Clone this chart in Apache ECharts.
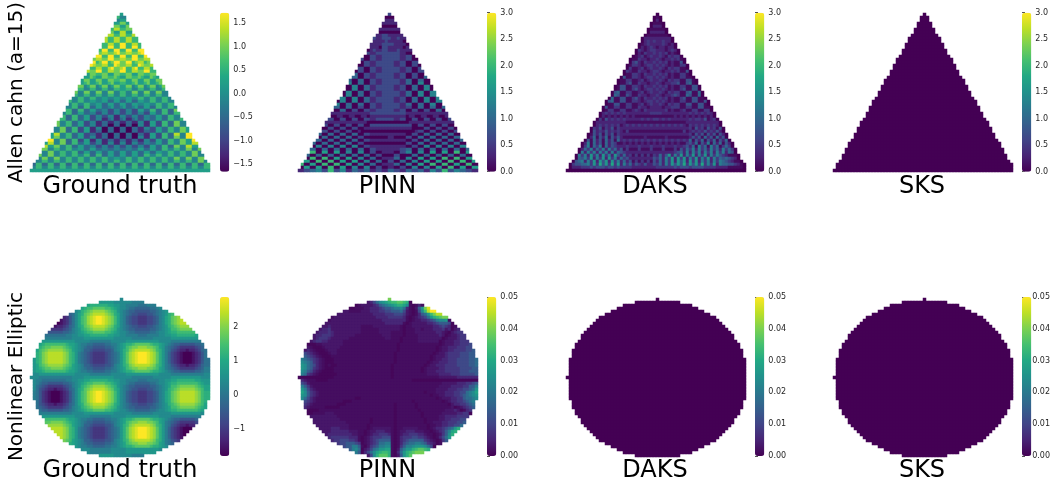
<!DOCTYPE html>
<html><head><meta charset="utf-8">
<style>html,body{margin:0;padding:0;background:#fff}#c{width:1053px;height:487px}</style>
<script src="https://cdn.jsdelivr.net/npm/echarts@6/dist/echarts.min.js"></script>
</head><body><div id="c"></div>
<script>
const colTitles=["Ground truth","PINN","DAKS","SKS"];
const rowLabels=["Allen cahn (a=15)","Nonlinear Elliptic"];
const triLeft=[30,29,29,28,28,27,27,26,25,25,24,24,23,23,22,21,21,20,20,19,19,18,17,17,16,16,15,15,14,13,13,12,12,11,11,10,9,9,8,8,7,7,6,5,5,4,4,3,3,2,1,1,0];
const circleLeft=[30,23,19,17,15,13,11,10,9,8,7,6,5,5,4,3,3,2,2,2,1,1,1,1,1,1,0,1,1,1,1,1,1,1,2,2,2,3,3,4,5,5,6,7,8,9,10,11,13,15,17,19,23];

const triTruthRows=["5555 5555 5555 5555 5555 5555 5555 5555 5555","6655 6655 6655 6655 6655 6655 6655 6644 7755","5566 5566 5566 5566 5566 5566 5566 4455 5566","5577 5577 5577 5577 5577 5577 5577 5577 5577","7755 7755 7755 7755 7755 7755 7755 7755 7755","7766 7766 7766 7766 7766 7766 7766 8866 7766 7766","5577 5577 5577 5577 5577 5577 5577 5588 5577 5577","6688 6688 6688 6688 6688 6688 6688 6688 6688 6688","8866 8866 8866 8866 8866 8866 8866 8866 8866 8866 8866","8866 8866 8866 8866 8866 8866 8866 8866 8866 8866 8866","6688 6688 6688 6688 6688 6688 6688 6699 6688 6688 6688","6699 6699 6699 6699 6699 6699 6699 6699 6699 6699 6699","9966 9966 9966 9966 9966 9966 9966 9966 9966 9966 9966 9966","8977 8977 8977 8977 8977 8977 8877 8977 8877 8977 8977 8877","6699 6699 6699 6699 6699 6699 6699 6699 6699 6699 6699 6699","7788 7788 7788 7788 7788 7788 7799 7788 7799 7788 7788 7788","9967 9967 9967 9967 8867 9967 9967 9977 9967 8867 9967 8867","9877 9877 9877 9877 8877 9877 8866 9877 8866 9877 8877 9877","6689 6689 6689 6689 6689 6688 6689 7789 6689 6688 6689 6678","7799 7799 7799 7799 6688 7799 6688 7799 6688 7799 6688 7788","7755 7755 7755 7755 7755 7766 7755 7766 7755 7766 7755 7755 7755","7655 7655 7655 7655 7655 7655 7766 7655 7766 7655 7655 7655 7655","5577 5577 5577 5577 5577 5577 5577 6677 5577 5577 5577 5577 5577","5567 5567 5567 5567 5567 5567 5567 5566 5567 5567 5567 5567 5567","7745 7745 7745 7745 7745 7745 7745 7755 7745 7745 7745 7745 7745 7745","6644 6644 6644 6644 6644 6644 6644 6655 6644 6644 6644 6644 6644 6644","4477 4477 4477 4477 4477 4477 4477 4466 4477 4477 4477 4477 4477 4477","4466 4466 4466 4466 4466 4466 4466 4466 4466 4466 4466 4466 4466 4466","6644 6644 6644 6644 6644 6644 5544 5544 5544 6644 6644 6644 6644 6644 6644","6644 6644 6644 6644 6644 5544 5533 5533 5533 5544 6644 6644 6644 6644 6644","4466 4466 4467 4466 4466 4455 3355 3355 3355 4455 4466 4466 4467 4466 4466","4466 4467 4466 4466 3366 3355 3345 3345 3345 3355 3366 4466 4466 4467 4466","6644 6644 7744 6633 6633 5533 4422 4422 4422 5533 6633 6633 7744 6644 6644","6644 7744 6644 6633 5533 4422 4422 4422 4422 4422 5533 6633 6644 7744 6644","4477 4477 4466 3366 3355 2244 2244 1144 2244 2244 3355 3366 4466 4477 4477","4477 4488 4466 3366 3355 2244 1134 1134 1134 2244 3355 3366 4466 4488 4477","7744 8844 7744 6633 5522 4411 3311 3311 3311 4411 5522 6633 7744 8844 7744","7744 8855 7744 6633 5522 4411 3300 3300 3300 4411 5522 6633 7744 8855 7744","4488 5599 4477 3366 2255 1144 0033 0033 0033 1144 2255 3366 4477 5599 4488","4477 5599 4477 3366 2255 1133 0033 0033 0033 1133 2255 3366 4477 5599 4477","7744 9955 8844 6633 5522 3311 3300 3300 3300 3311 5522 6633 8844 9955 7744","7744 9955 7744 6633 5522 4411 3300 3300 3300 4411 5522 6633 7744 9955 7744","4477 5599 4477 3366 2255 1144 1133 1133 1133 1144 2255 3366 4477 5599 4477","4477 5588 4477 3366 3355 2244 1144 1144 1144 2244 3355 3366 4477 5588 4477","7744 8855 7744 6633 5533 4422 4422 4422 4422 4422 5533 6633 7744 8855 7744","7744 7744 6644 6644 5533 5533 4433 4433 4433 5533 5533 6644 6644 7744 7744","4477 4477 4466 4466 3355 3355 3355 3355 3355 3355 3355 4466 4466 4477 4477","4477 4477 4466 4466 4466 3366 3355 3355 3355 3366 4466 4466 4466 4477 4477","7744 7744 7744 6644 6644 6644 6644 5544 6644 6644 6644 6644 7744 7744 7744","7744 6644 6644 6644 6644 6644 6644 6644 6644 6644 6644 6644 6644 6644 7744","3366 3366 3366 3366 3366 3366 3366 3366 3366 3366 3366 3366 3366 3366 3366","4466 4466 4466 4466 4466 4466 4466 4466 4466 4466 4466 4466 4466 4466 4466","5"];
const triPinnRows=["2","0","1","1","0","1","0","1100 1100 1100 1100 1100 1100 1111 2211 1111 1100","1111 1111 1111 1111 1111 1111 1211 2221 1211 1111","0011 0011 0011 0011 0011 0011 0111 1211 1110 0011","0011 0011 0011 0011 0011 0011 1111 2222 1111 0011","1100 1100 1100 1100 1100 1100 1110 2211 1110 1100 1100","1100 1100 1100 1100 1100 1100 1211 2211 1211 1100 1100","0011 0011 0011 0011 0011 0022 1122 2222 2211 0022 0011","2200 2200 2200 2200 2200 2200 2211 2222 2211 2200 2200 2200","2200 2200 2200 2200 2200 2200 2211 2222 2211 2200 2200 2200","0022 0022 0022 0022 0022 0022 1122 2222 1122 0022 0022 0022","0022 0022 0022 0022 0022 0022 1122 2222 1122 0022 0022 0022","2200 2200 2200 2200 2200 2200 2211 2222 2211 2200 2200 2200","2200 2200 2200 2200 2200 2200 2211 2222 2211 2200 2200 2200 2200","0033 0033 0033 0033 0033 0022 1122 2222 1122 0022 0033 0033 0033","0033 0033 0033 0033 0033 0022 1122 2222 1122 0022 0033 0033 0033","3300 3300 4400 4400 3300 3300 2211 2222 2211 3300 3300 4400 4400 3300","4400 3300 4400 5500 4400 3300 2211 2222 2211 3300 4400 5500 4400 3300","0044 0044 0044 0044 0044 0033 1122 2222 1122 0033 0044 0044 0044 0044 0044","0044 0044 0055 0044 0044 0033 1122 2222 1122 0033 0044 0044 0055 0044 0044","5500 5500 5500 4400 4400 3300 2211 2222 2211 3300 4400 4400 5500 5500 5500","5500 5500 5500 4400 4400 3300 2211 2222 2211 3300 4400 4400 5500 5500 5500","0055 0055 0055 0044 0044 0033 1122 2222 1122 0033 0044 0044 0055 0055 0055","0055 0055 0055 0044 0044 0033 1122 2222 1122 0033 0044 0044 0055 0055 0055","4400 4400 4400 4400 3300 3300 2211 2222 2211 3300 3300 4400 4400 4400 4400","3300 3300 3300 3300 3300 2200 2211 2222 2211 2200 3300 3300 3300 3300 3300","0033 0033 0033 0033 0022 0022 1122 2222 1122 0022 0022 0033 0033 0033 0033","1111 1111 1111 1111 1111 1111 2222 2222 2222 1111 1111 1111 1111 1111 1111","0110 0110 0110 0110 0110 0110 1111 1111 1111 0110 0110 0110 0110 0110 0110","0022 0022 0022 0022 0022 0022 1122 2222 1122 0022 0022 0022 0022 0022 0022","1111 1111 1111 1111 1111 1110 0000 0000 0000 0111 1111 1111 1111 1111 1111","2200 2200 2200 2200 2200 2200 2222 2222 2222 2200 2200 2200 2200 2200 2200","0022 0022 0022 0022 0022 0011 1111 1111 1111 1100 0022 0022 0022 0022 0022","2200 2200 2200 2200 2200 1000 0000 0000 0000 0001 2200 2200 2200 2200 2200","0033 0033 0033 0033 0033 0022 1111 1111 1111 0022 0033 0033 0033 0033 0033","3300 3300 3300 3300 3300 2200 0000 0011 0000 2200 3300 3300 3300 3300 3300","0033 0033 0033 0033 0033 0022 1111 1111 1111 0022 0033 0033 0033 0033 0033","3300 3300 3300 3300 3300 2200 0000 0000 0000 2200 3300 3300 3300 3300 3300","0044 0044 0044 0044 0044 0022 1111 1111 1111 0022 0044 0044 0044 0044 0044","3300 3300 3300 3300 3300 3300 2211 1111 1122 3300 3300 3300 3300 3300 3300","5500 6600 5500 5500 4400 4400 2200 1111 0022 4400 4400 5500 5500 6600 5500","0033 0033 0033 0033 0033 0033 0022 0000 2200 0033 0033 0033 0033 0033 0033","5500 6600 6600 5500 5500 4400 3300 1111 3300 4400 5500 5500 6600 6600 5500","0055 0066 0066 0055 0055 0044 0033 0022 0033 0044 0055 0055 0066 0066 0055","6600 5500 6600 6600 5500 4400 3300 1111 3300 4400 5500 6600 6600 5500 6600","0055 0055 0066 0055 0044 0044 0022 0011 0022 0044 0044 0055 0066 0055 0055","1122 3344 2266 2244 1133 2233 1122 1133 2211 3322 3311 4422 6622 4433 2211"];
const triDaksRows=["2","0","1","0","1","0","1","0","1","0011 0011 0011 0011 0011 0011 0112 1211 2110 0011","0011 0011 0011 0011 0011 0011 1012 1111 2101 0011","1100 1100 1100 1100 1100 1100 1101 2101 1011 1100 1100","1100 1100 1100 1100 1100 1100 2101 2211 1012 1100 1100","0021 0012 0021 0012 0021 0012 1021 1212 1201 0021 0012 0021","2100 1200 2100 1200 2100 2200 1201 2112 1021 2200 1200 2100","1200 2100 1200 2100 1200 2100 2110 1121 0112 1200 2100 1200 2100","0021 0012 0021 0012 0022 0023 1021 1212 1201 0032 0022 0012 0021 0012 0021","0012 0021 0012 0023 0032 0022 1012 2121 2101 0022 0032 0023 0012 0021 0012","2100 1200 2200 3200 2300 2200 1201 2112 1021 2200 2300 3200 2200 1200 2100","1200 2100 3200 2300 3300 2100 2110 1221 0112 1200 3300 2300 3200 2100 1200","0021 0023 0032 0033 0023 0022 1021 1212 1201 0022 0023 0033 0032 0023 0021","0012 0032 0033 0043 0033 0022 1012 2121 2101 0022 0033 0034 0033 0032 0012","2100 3300 4300 3400 3300 2200 1201 2112 1021 2200 3300 4300 3400 3300 2100","1200 3400 3300 4300 3400 2300 2110 1121 0112 2300 3400 4300 3300 3400 1200","0032 0043 0044 0034 0033 0022 1021 1212 1201 0022 0033 0034 0044 0043 0032","0033 0044 0054 0043 0033 0023 1012 2121 2101 0023 0033 0043 0054 0044 0033","3300 4500 5500 4400 3400 2200 1201 2112 1021 2200 3400 4400 5500 4500 3300","3400 5500 6500 4500 4300 3200 2110 1121 0112 3200 4300 4500 5500 5400 3400","0043 0055 0045 0044 0033 0023 1021 1212 1201 0023 0033 0044 0045 0055 0043","0033 0054 0044 0034 0033 0022 1012 2121 2101 0022 0033 0034 0044 0054 0033","3300 4300 4400 3300 3300 2200 1201 2112 1021 2200 3300 3300 4400 4300 3300","2300 3300 3300 3300 2200 2200 2110 1111 0112 2200 2200 3300 3300 3300 2300","0022 0022 0023 0022 0022 0012 1021 1111 1201 0012 0022 0022 0023 0022 0022","1111 1212 1212 1212 1212 1111 1111 2222 1111 1111 1212 1212 1212 1212 1111","0101 1010 1010 1010 1010 1010 0000 0000 0000 1010 1010 1010 1010 1010 0101","1212 0312 1212 0312 1212 1111 1212 1221 2121 1111 1212 2130 1212 2130 1212","1111 2111 2111 1111 1111 0000 0000 0000 0000 0000 1111 1111 1112 1112 1111","1212 1212 1212 1212 1201 2121 2121 2121 2121 2121 0212 1212 1212 1212 1212","0213 0213 0213 0213 0211 1111 1111 1111 1111 1111 1203 1203 1203 1203 1203","1212 1312 1312 1312 1210 2000 0000 0000 0000 0002 0121 2131 2131 2131 2121","0213 0313 0313 0313 0211 1111 1111 1111 1111 1111 1203 1303 1303 1303 1203","1313 1403 1403 1403 1310 0000 0010 0000 0100 0000 0131 3041 3041 3041 3131","0213 0413 0413 0413 0412 1212 1212 1212 1212 1212 1403 1403 1403 1403 1203","1314 0315 0413 0413 2001 0101 0101 0101 0101 0100 2314 0315 0414 0314 1310","0224 0425 0425 0413 2111 2111 2111 2111 2111 2112 3140 5240 5240 2420 1000","1242 5142 5142 5152 4130 2000 2000 2000 2000 2031 4251 5241 5241 5242 1000","1234 1515 2515 2515 1432 1111 1111 1111 1111 2341 5152 5152 5152 5143 2100","0123 5251 6251 6251 6314 1202 0202 0214 1361 5261 5261 5261 5253 2100 0000","0123 4352 6152 6162 5142 3111 1111 1324 1526 1626 1526 1526 1524 3432 1000","0123 4515 2616 3616 2514 1302 0202 0314 1526 1636 1626 1525 1525 4321 0000","0123 3445 2627 3627 2615 2413 2131 1324 1526 3637 2636 2725 2615 4433 2100","0011 1222 3233 3233 2322 2211 1111 1122 2222 3233 3233 3322 2211 1100 0000","0"];
const triSksRows=["0"];
const daksLevelValues=[0.1,0.3,0.5,0.75,1.0,1.25,1.55,1.8,2.1,2.4];
const circleTruthRows=[
"jjiiiiiiiiiiijjjjkkkkkkkkkkjjjjjjiiiiiiijjjjjjkkkkkkkkkkjj",
"jjiiiiiiiiiiijjjjkkkkkkkkkkjjjjjjiiiiiiijjjjjjkkkkkkkkkkjj",
"jiihhhhhhhhiijjkkllmmmmmmllkkjjiiiihhhiiiijjkkllmmmmmmllkk",
"jihggfffffgghijklmnnoooonnmlkjjihhggggghhijjklmmnnnnnnnmlk",
"jhgfedddddefgijkmnopqqqqponmkjihggfffffgghijklnnoppppponml",
"jhfedccbccdeghjlmopqrrrrqpomljihgffeeeffghijkmnopqqqqqponl",
"ihfdcbaaabcdfhjlnoqrsttsrqpnljigfeedddeefgijlmopqrrrrrqpnm",
"ihfdcbaaabcdfhjlnoqrsttsrqpnljigfeedddeefgijlmopqrrrrrqpnm",
"ihfdcbaaabcdfhjlnoqrsttsrqpnljigfeedddeefgijlmopqrrrrrqpnm",
"jhfedccbccdeghjlmopqrrrrqpomljihgffeeeffghijkmnopqqqqqponl",
"jhgfedddddefgijkmnopqqqqponmkjihggfffffgghijklnnoppppponml",
"jihggfffffgghijklmnnoooonnmlkjjihhggggghhijjklmmnnnnnnnmlk",
"jiihhhhhhhhiijjkkllmmmmmmllkkjjiiiihhhiiiijjkkllmmmmmmllkk",
"jjiiiiiiiiiiijjjjkkkkkkkkkkjjjjjjiiiiiiijjjjjjkkkkkkkkkkjj",
"jjkkkkkkkkkkkkjjjjjiiiiiiijjjjjkkkkkkkkkkkjjjjiiiiiiiiiiij",
"kllmnnnnnnnmllkjiihhgggghhiijklmmnooooonmmlkjihggfffffgghi",
"klmnoopppponmlkjihggffffgghijklnoppqqqpponlkihgfedddddefgi",
"klnopqqqqqponlkjiggfeeeeffgijkmnpqrrrrrqpnmkihfedccbccdegh",
"kmnpqrrrrrqpnmkihgfeddddefghikmoqrstttsrqomkigedcbaaabcdfh",
"kmnpqrrrrrqpnmkihgfeddddefghikmoqrstttsrqomkigedcbaaabcdfh",
"kmnpqrrrrrqpnmkihgfeddddefghikmoqrstttsrqomkigedcbaaabcdfh",
"kmnpqrrrrrqpnmkihgfeddddefghikmoqrstttsrqomkigedcbaaabcdfh",
"klnopqqqqqponlkjiggfeeeeffgijkmnpqrrrrrqpnmkihfedccbccdegh",
"klmnoopppponmlkjihggffffgghijklnoppqqqpponlkihgfedddddefgi",
"kllmnnnnnnnmllkjiihhgggghhiijklmmnooooonmmlkjihggfffffgghi",
"jjkkkkkkkkkkkkjjjjjiiiiiiijjjjjkkkkkkkkkkkjjjjiiiiiiiiiiij",
"jjiiiiiiiiiiijjjjkkkkkkkkkkjjjjjjiiiiiiijjjjjjkkkkkkkkkkjj",
"jiihhhhhhhhiijjkkllmmmmmmllkkjjiiiihhhiiiijjkkllmmmmmmllkk",
"jihggfffffgghijklmnnoooonnmlkjjihhggggghhijjklmmnnnnnnnmlk",
"jhgfedddddefgijkmnopqqqqponmkjihggfffffgghijklnnoppppponml",
"jhfedccbccdeghjlmopqrrrrqpomljihgffeeeffghijkmnopqqqqqponl",
"ihfdcbaaabcdfhjlnoqrsttsrqpnljigfeedddeefgijlmopqrrrrrqpnm",
"ihfdcbaaabcdfhjlnoqrsttsrqpnljigfeedddeefgijlmopqrrrrrqpnm",
"ihfdcbaaabcdfhjlnoqrsttsrqpnljigfeedddeefgijlmopqrrrrrqpnm",
"ihfdcbaaabcdfhjlnoqrsttsrqpnljigfeedddeefgijlmopqrrrrrqpnm",
"jhfedccbccdeghjlmopqrrrrqpomljihgffeeeffghijkmnopqqqqqponl",
"jhgfedddddefgijkmnopqqqqponmkjihggfffffgghijklnnoppppponml",
"jihggfffffgghijklmnnoooonnmlkjjihhggggghhijjklmmnnnnnnnmlk",
"jjiiiiiiiiiiijjjjkkkkkkkkkkjjjjjjiiiiiiijjjjjjkkkkkkkkkkjj",
"jjkkkkkkkkkkkkjjjjjiiiiiiijjjjjkkkkkkkkkkkjjjjiiiiiiiiiiij",
"kllmnnnnnnnmllkjiihhgggghhiijklmmnooooonmmlkjihggfffffgghi",
"klmnoopppponmlkjihggffffgghijklnoppqqqpponlkihgfedddddefgi",
"klnopqqqqqponlkjiggfeeeeffgijkmnpqrrrrrqpnmkihfedccbccdegh",
"kmnpqrrrrrqpnmkihgfeddddefghikmoqrstttsrqomkigedcbaaabcdfh",
"kmnpqrrrrrqpnmkihgfeddddefghikmoqrstttsrqomkigedcbaaabcdfh",
"kmnpqrrrrrqpnmkihgfeddddefghikmoqrstttsrqomkigedcbaaabcdfh",
"kmnpqrrrrrqpnmkihgfeddddefghikmoqrstttsrqomkigedcbaaabcdfh",
"klnopqqqqqponlkjiggfeeeeffgijkmnpqrrrrrqpnmkihfedccbccdegh",
"klmnoopppponmlkjihggffffgghijklnoppqqqpponlkihgfedddddefgi",
"kllmnnnnnnnmllkjiihhgggghhiijklmmnooooonmmlkjihggfffffgghi",
"jjkkkkkkkkkkkkjjjjjiiiiiiijjjjjkkkkkkkkkkkjjjjiiiiiiiiiiij",
"jjkkkkkkkkkkkkjjjjjiiiiiiijjjjjkkkkkkkkkkkjjjjiiiiiiiiiiij",
"jjiiiiiiiiiiijjjjkkkkkkkkkkjjjjjjiiiiiiijjjjjjkkkkkkkkkkjj"];
const circlePinnRows=[
"bbbbbbbbbb bbbbbbbbbb bbbbbbbbbp",
"bbbbbbbbbb bbbbbbbbbb bbcdfhjklm nnoonmabbb bbbbbbbbbb bbbbbbbbb",
"bbbbbbbbbb bbbbbbbbab ccccdeghij klmmljbabd bbbbbbbbbb bbbbbbbbb",
"bbbbbbbbbb bbbbbbaabb bccdddefgg hiijhdbacg kpstbbbbbb bbbbbbbbb",
"bbbbbbbbbb bbbbccbbbb cccdddeeff ggghfcbabf jnrtttpbbb bbbbbbbbb",
"bbbbbbbbbb bbcccccccc ccccddddee efffecbabd ghknprrrpb bbbbbbbbb",
"bbbbbbbbbb bccccccccc cccccdddde eeeedbabcd efhkmnoppb bbbbbbbbb",
"bbbbbbbbbb cccccccccc cccccccddd dddddbabcc ddefgijjkb bbbbbbbbb",
"bbbbbbbbcc cccccccccc ccccccccdd ddddbabccc ccddefgggf abbbbbbbb",
"bbbbbbbccd cccccccccc bbbbcccccc cccbabbccc ccccddefed abcbbbbbb",
"bbbbbbcdde cccccccccc bbbbbbcccc cccbabbbcc bcccdddecd acdbbbbbb",
"bbbbbcddde dccccccccc bbbbbbcccc bbbbabbbcc cccccddcba cdeebbbbb",
"bbbbcddeee dcccccccbb bbbbbbbccc bbbbabbbbc ccccccdcab ccdeebbbb",
"bbbbcdeeed ccccccbbbb bbbbbbbbcc bbbabbbbbc cccccccabc ccdeebbbb",
"bbbcdeeddc ccccbbbbbb bbbbbbbbbb bbbabbbbbc ccccccabcc cddeeebbb",
"bbaaabbccc ccccbbbbbb bbbbbbbbbb bbabbbbbbb bbbbbbabcc cddeeefbb",
"bbcbaaabcc cccbbbbbbb bbbbbbbbbb bbabbbbbbb bbbbbabccd ddeeeffbb",
"bcdcbaaabc ccbbbbbbbb bbbbbbbbbb bbabbbbbbb bbbbbabccd deeeeffgb",
"bfedcbaaab ccbbbbbbbb bbbbbbbbbb babbbbbbbb bbbbabccde eeefffggb",
"bgfedcbaaa bbbbbbbbbb bbbbbbbbbb babbbbbbbb bbbabcccde eeefffggb",
"ihgfedcbaa abbbbbbbbb bbbbbbbbbb babbbbbbbb bbbabccdde eeffffggh",
"jihgedcbaa abbbbbbbbb bbbbbbbbbb babbbbbbbb bbabccddde eeffffggh",
"kjhgfdcbab aabbbbbbbb bbbbbbbbbb abbbbbbbbb babccdddee eeffffggh",
"kjhgedcbaa abbbbbbbbb bbbbbbbbbb abbbbbbbbb abccccddee eeeffffgg",
"jigfdcbaaa abbbbbbbbb bbbbbbbbbb abbbbbbbbb abcccdddee eeefffggg",
"ihedcbaaaa aabbbbbbbb bbbbbbbbbb abbbbbbbbb bbccccdddd eeefffffg",
"aaaaaaaaaa abbbbbbbbb bbbbbbbbbb abbbbbbbbb bbbbbbcccc ccddddddd",
"dcbbbaaaab bbbbbbbbbb bbbbbbbbbb bbbbbbbaaa aaaaaaaaaa aaaaaaaaa",
"fecbbbbbbb bbbbbbbbbb bbbbbbbbbb bbbbbbbbbb bbbbbbbccc ccdddeefg",
"igecbbbbbb bbbbbbbbbb bbbbbbbbbb bbbbbbbbbb bbbbbbcccc ddddeeggi",
"kifdcbbbbb bbbbbbbbbb bbbbbbbbbb bbbbbbbbbb bbbbbccccd ddeeffghk",
"ljgedcbbbb bbbbbbbbbb bbbbbbbbbb bbbbbbbbbb babbbcccdd deeffhijl",
"kjgedcbbbb bbbbbbbbbb bbbbbbbbbb bbbbbbbbbb bbbabbccdd deefghijk",
"jhfdcbbbbb bbbbbbbbaa bbbbbbbbbb bbbbbbbbbb bbbbbabccc ddeeghhij",
"hfedcbbbbb bbbbaaabbb bbbbbbbbbb bbbbbbbabb bbbbbbbabc ddeefghib",
"hedcbbbbbb bbaaabbbbb bbbbbbbbbb babbbbbbab bbbbbbbbba cddeefghb",
"gdcbbbbbaa aaabbbbbbb bbbbbbbbbb babbbbbbab bbbbbbbbbb cabcdefgb",
"baaaaabbbb bbbbbbbbbb bbbbbbbbbb babbbbbbba bbbbbbbbcc cdcabdefb",
"baaabbbbcc cbbbbbbbbb bbbbbbbbbb babbbbbbbb abbbbbbccc ccddeeabb",
"bbbccccccc ccbbbbbbbb bbbbbbbbbb babbbbbbbb abbbbbccdd ddeeeegbb",
"bbbbcccccc cccbbbbbbb bbbabbbbbb babbbbbbbb babbbbccdd eeeffgbbb",
"bbbbcccccc cccccbbbbb bbbabbbbbb babbbbbbbb babbcccdde eeffghbbb",
"bbbbbccccc ccccccbbbb bbabbbbbbb babbbbbbbb bbabbccdde effhkbbbb",
"bbbbbbcccc dddcccbbbb bbabcccccc babbcccccb bbabcddefg hkmbbbbbb",
"bbbbbbbccc ddddddcccb babccdddcc babccdddcc cbbabcdegi lmbbbbbbb",
"bbbbbbbbcd dddddddccb babcddeeed babcddeeed dcbbabcegj mbbbbbbbb",
"bbbbbbbbbd eeeeeedddb abcdeeefff babdeeeffe edcbabdfhk bbbbbbbbb",
"bbbbbbbbbb deefffeedb abcdefgggg babdefgggg gedcbabegh bbbbbbbbb",
"bbbbbbbbbb bbeffgggfe abcdefhhii babdfghhii hgedcabbbb bbbbbbbbb",
"bbbbbbbbbb bbbbfggiig bacefgiijj babegiijkk kjhfabbbbb bbbbbbbbb",
"bbbbbbbbbb bbbbbbgijh acdfhikkll bacgikkmno onmbbbbbbb bbbbbbbbb",
"bbbbbbbbbb bbbbbbbbig adfhjlmnnm badhkmnopp pbbbbbbbbb bbbbbbbbb",
"bbbbbbbbbb bbbbbbbbbb bbcfjmooom bacgkmoobb bbbbbbbbbb bbbbbbbbb"];
const circleDaksRows=["a"];
const circleSksRows=["a"];
const pinnLetterValues=[0.0008,0.0018,0.0032,0.0055,0.008,0.011,0.0145,0.018,0.021,0.0237,0.026,0.029,0.0316,0.034,0.0368,0.0395,0.042,0.0447,0.047,0.05];

const triRanges=[[-1.665,1.725],[0,3],[0,3],[0,3]];
const circleRanges=[[-1.78,2.87],[0,0.05],[0,0.05],[0,0.05]];
const tickSets=[[-1.5,-1,-0.5,0,0.5,1,1.5],[0,0.5,1,1.5,2,2.5,3],[0,0.5,1,1.5,2,2.5,3],[0,0.5,1,1.5,2,2.5,3],[-1,0,1,2],[0,0.01,0.02,0.03,0.04,0.05],[0,0.01,0.02,0.03,0.04,0.05],[0,0.01,0.02,0.03,0.04,0.05]];
const tickDigits=[1,1,1,1,0,2,2,2];

const viridis=['#440154','#482475','#414487','#355f8d','#2a788e','#21918c','#22a884','#44bf70','#7ad151','#bddf26','#fde725'];
const N_COLS=60,N_ROWS=53;
const colCats=Array.from({length:N_COLS},(_,i)=>i), rowCats=Array.from({length:N_ROWS},(_,i)=>i);
const clamp=(v,a,b)=>Math.max(a,Math.min(b,v));

function triCells(rows,range,table){
  const out=[];
  for(let r=0;r<N_ROWS;r++){
    const s=(rows[Math.min(r,rows.length-1)]).replace(/ /g,'');
    const L=triLeft[r],R=Math.min(59,60-L);
    for(let c=L;c<=R;c++){
      const d=+s[clamp(c,0,s.length-1)];
      const edge=(c===L||c===R||r===N_ROWS-1)&&table;
      out.push([c,r,edge?0:(table?table[d]:range[0]+(range[1]-range[0])*d/9)]);
    }
  }
  return out;
}
function circleCells(rows,range,table){
  const out=[];
  for(let r=0;r<N_ROWS;r++){
    const s=(rows[Math.min(r,rows.length-1)]).replace(/ /g,'');
    const L=circleLeft[r],R=Math.min(59,60-L);
    for(let c=L;c<=R;c++){
      const d=s.charCodeAt(clamp(c-1,0,s.length-1))-97;
      out.push([c,r,table?table[d]:range[0]+(range[1]-range[0])*d/19]);
    }
  }
  return out;
}
const panelX=[30,298,566,833];
const barX=[220,487,755,1022];
const panelW=180, panelH=159, panelY=[13,298];
const barH=159, barY=[12.7,297];
const titleX=[120,387.5,655,922];
const data=[triCells(triTruthRows,triRanges[0]),triCells(triPinnRows,triRanges[1]),triCells(triDaksRows,triRanges[2],daksLevelValues),triCells(triSksRows,triRanges[3]),
  circleCells(circleTruthRows,circleRanges[0]),circleCells(circlePinnRows,circleRanges[1],pinnLetterValues),circleCells(circleDaksRows,circleRanges[2]),circleCells(circleSksRows,circleRanges[3])];
const ranges=triRanges.concat(circleRanges);

const grid=[],xAxis=[],yAxis=[],series=[],visualMap=[],graphic=[];
for(let i=0;i<8;i++){
  const row=i<4?0:1,col=i%4,rng=ranges[i];
  grid.push({left:panelX[col],top:panelY[row],width:panelW,height:panelH});
  xAxis.push({type:'category',gridIndex:i,data:colCats,show:false});
  yAxis.push({type:'category',gridIndex:i,data:rowCats,inverse:true,show:false});
  series.push({type:'heatmap',xAxisIndex:i,yAxisIndex:i,data:data[i],silent:true,progressive:0,emphasis:{disabled:true}});
  visualMap.push({type:'continuous',seriesIndex:i,dimension:2,min:rng[0],max:rng[1],left:barX[col],top:barY[row],itemWidth:9.3,itemHeight:barH,padding:0,calculable:false,showLabel:false,text:null,hoverLink:false,inRange:{color:viridis}});
}
for(let i=0;i<8;i++){
  const row=i<4?0:1,col=i%4,rng=ranges[i],g=8+i,dig=tickDigits[i],ticks=tickSets[i];
  grid.push({left:barX[col],top:barY[row],width:9.3,height:barH});
  xAxis.push({type:'value',gridIndex:g,show:false,min:0,max:1});
  yAxis.push({type:'value',gridIndex:g,position:'right',min:rng[0],max:rng[1],splitLine:{show:false},axisLine:{show:false},
    axisTick:{show:true,length:3,lineStyle:{color:'#262626',width:0.8},customValues:ticks},
    axisLabel:{show:true,margin:4,fontFamily:'DejaVu Sans',fontSize:8,color:'#262626',customValues:ticks,showMinLabel:true,showMaxLabel:true,
      formatter:v=>{const t=Math.abs(v).toFixed(dig);return (v<-1e-9?'\u2212':'')+t;}}});
  series.push({type:'line',xAxisIndex:g,yAxisIndex:g,data:[],silent:true});
}
colTitles.forEach((t,c)=>{[186.5,470.5].forEach(y=>{
  graphic.push({type:'text',x:titleX[c],y,silent:true,style:{text:t,fontFamily:'DejaVu Sans',fontSize:24,fill:'#000',align:'center',verticalAlign:'middle'}});
});});
rowLabels.forEach((t,i)=>{
  graphic.push({type:'text',x:17,y:[92.5,376.5][i],rotation:Math.PI/2,silent:true,style:{text:t,fontFamily:'DejaVu Sans',fontSize:20,fill:'#000',align:'center',verticalAlign:'middle'}});
});
const chart=echarts.init(document.getElementById('c'),null,{renderer:'canvas'});
chart.setOption({animation:false,backgroundColor:'#fff',grid,xAxis,yAxis,series,visualMap,graphic});
</script></body></html>
